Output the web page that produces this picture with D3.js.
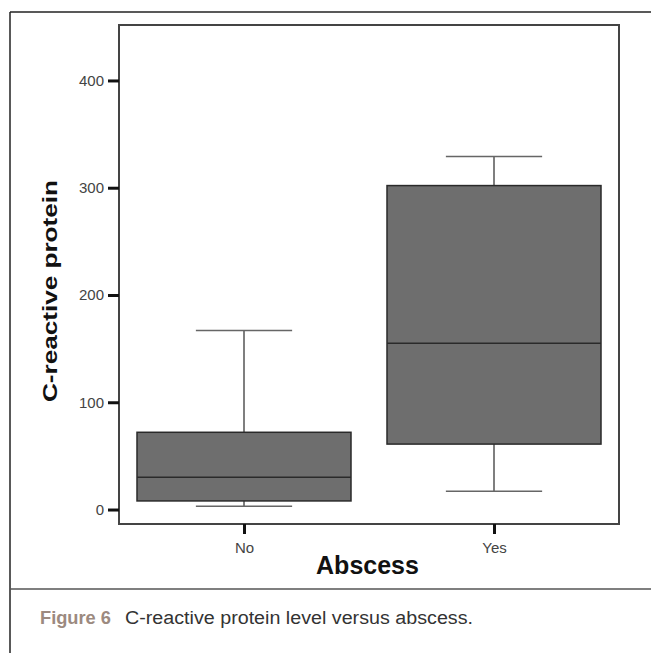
<!DOCTYPE html>
<html><head><meta charset="utf-8">
<script src="https://cdn.jsdelivr.net/npm/d3@7"></script>
<style>
html,body{margin:0;padding:0;background:#fff;}
svg{display:block;}
</style></head>
<body>
<svg id="chart" width="651" height="653"></svg>
<script>
// ---- data ----
const categories = ["No", "Yes"];
const q1Values = [8, 61];
const medianValues = [30, 155];
const q3Values = [72, 302];
const minValues = [3, 17];
const maxValues = [167, 329];
const yTicks = [0, 100, 200, 300, 400];
const xTitle = "Abscess";
const yTitle = "C-reactive protein";
const captionLabel = "Figure 6";
const captionText = "C-reactive protein level versus abscess.";

const FONT = "'Liberation Sans', Arial, Helvetica, sans-serif";
const svg = d3.select("#chart");
const W = 651, H = 653;
const plot = {left: 119, right: 619, top: 25, bottom: 524};

// outer figure frame
svg.append("line").attr("x1", 10).attr("x2", 10).attr("y1", 12).attr("y2", H)
  .attr("stroke", "#222").attr("stroke-width", 1.5);
svg.append("line").attr("x1", 10).attr("x2", W).attr("y1", 12).attr("y2", 12)
  .attr("stroke", "#222").attr("stroke-width", 1.5);
svg.append("line").attr("x1", 10).attr("x2", W).attr("y1", 589).attr("y2", 589)
  .attr("stroke", "#555").attr("stroke-width", 1.5);

const x = d3.scalePoint().domain(categories).range([plot.left, plot.right]).padding(0.5);
const y = d3.scaleLinear().domain([-13.5, 451.7]).range([plot.bottom, plot.top]);
const step = x.step();
const boxW = step * 0.856;
const capW = step * 0.385;

// plot frame
svg.append("rect").attr("x", plot.left).attr("y", plot.top)
  .attr("width", plot.right - plot.left).attr("height", plot.bottom - plot.top)
  .attr("fill", "#fff").attr("stroke", "#444").attr("stroke-width", 2);

// y axis ticks
const yAxis = d3.axisLeft(y).tickValues(yTicks).tickSize(11).tickPadding(4).tickFormat(d3.format("d"));
const gy = svg.append("g").attr("transform", `translate(${plot.left},0)`).call(yAxis);
gy.select(".domain").remove();
gy.selectAll(".tick line").attr("stroke", "#111").attr("stroke-width", 3);
gy.selectAll(".tick text").attr("fill", "#444").style("font-family", FONT).style("font-size", "15px");

// x axis ticks
const xAxis = d3.axisBottom(x).tickSize(10).tickPadding(8);
const gx = svg.append("g").attr("transform", `translate(0,${plot.bottom})`).call(xAxis);
gx.select(".domain").remove();
gx.selectAll(".tick line").attr("stroke", "#111").attr("stroke-width", 3);
gx.selectAll(".tick text").attr("fill", "#444").style("font-family", FONT).style("font-size", "15px");

// boxes
const data = categories.map((c, i) => ({c, q1: q1Values[i], med: medianValues[i], q3: q3Values[i], min: minValues[i], max: maxValues[i]}));
const g = svg.append("g");
data.forEach(d => {
  const cx = x(d.c);
  g.append("line").attr("x1", cx).attr("x2", cx).attr("y1", y(d.q3)).attr("y2", y(d.max))
    .attr("stroke", "#555").attr("stroke-width", 1.5);
  g.append("line").attr("x1", cx).attr("x2", cx).attr("y1", y(d.q1)).attr("y2", y(d.min))
    .attr("stroke", "#555").attr("stroke-width", 1.5);
  g.append("line").attr("x1", cx - capW / 2).attr("x2", cx + capW / 2).attr("y1", y(d.max)).attr("y2", y(d.max))
    .attr("stroke", "#666").attr("stroke-width", 1.5);
  g.append("line").attr("x1", cx - capW / 2).attr("x2", cx + capW / 2).attr("y1", y(d.min)).attr("y2", y(d.min))
    .attr("stroke", "#666").attr("stroke-width", 1.5);
  g.append("rect").attr("x", cx - boxW / 2).attr("y", y(d.q3))
    .attr("width", boxW).attr("height", y(d.q1) - y(d.q3))
    .attr("fill", "#6e6e6e").attr("stroke", "#2a2a2a").attr("stroke-width", 1.5);
  g.append("line").attr("x1", cx - boxW / 2).attr("x2", cx + boxW / 2).attr("y1", y(d.med)).attr("y2", y(d.med))
    .attr("stroke", "#2a2a2a").attr("stroke-width", 1.5);
});

// axis titles
svg.append("text").attr("x", 367.5).attr("y", 574)
  .attr("text-anchor", "middle").attr("fill", "#111")
  .style("font-family", FONT).style("font-weight", "bold").style("font-size", "25px")
  .text(xTitle);
svg.append("text").attr("transform", "translate(57,291) rotate(-90)")
  .attr("text-anchor", "middle").attr("fill", "#111")
  .attr("textLength", 222).attr("lengthAdjust", "spacingAndGlyphs")
  .style("font-family", FONT).style("font-weight", "bold").style("font-size", "21px")
  .text(yTitle);

// caption
svg.append("text").attr("x", 40).attr("y", 624)
  .attr("textLength", 71).attr("lengthAdjust", "spacingAndGlyphs")
  .attr("fill", "#9c8a80")
  .style("font-family", FONT).style("font-size", "18px").style("font-weight", "bold")
  .text(captionLabel);
svg.append("text").attr("x", 125).attr("y", 624)
  .attr("textLength", 348).attr("lengthAdjust", "spacingAndGlyphs")
  .attr("fill", "#333")
  .style("font-family", FONT).style("font-size", "18px")
  .text(captionText);
</script>
</body></html>
